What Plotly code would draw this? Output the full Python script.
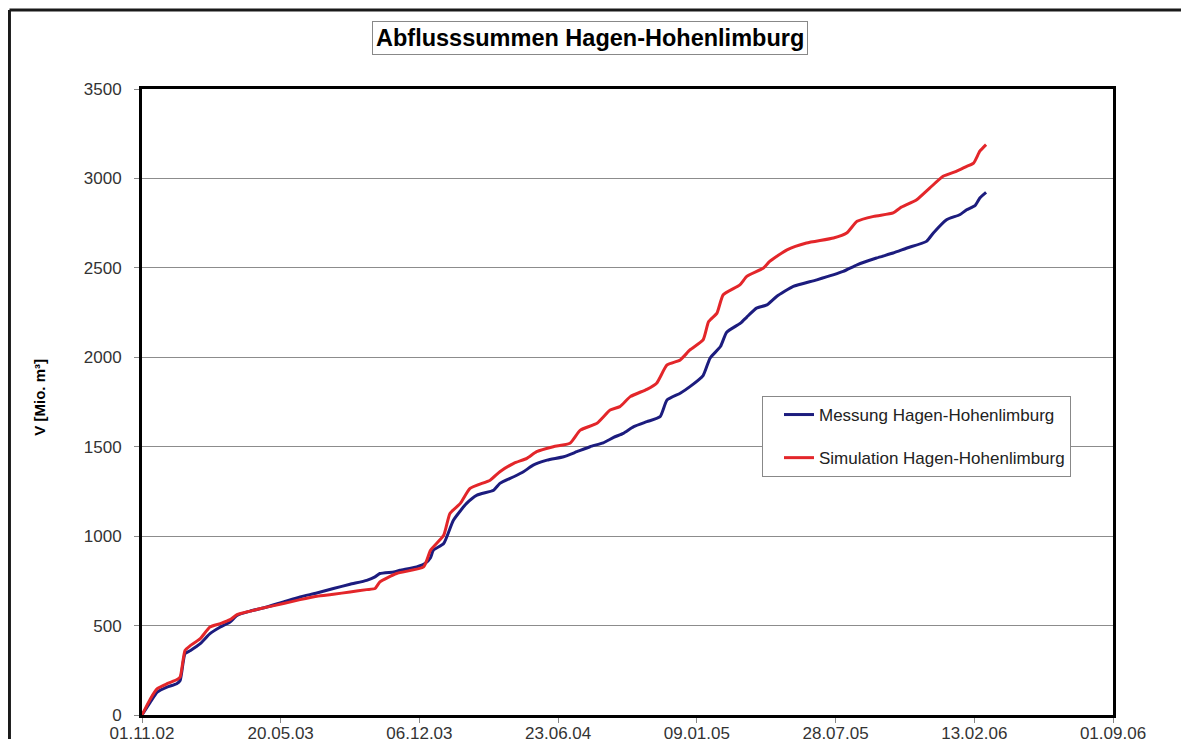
import pandas as pd
import plotly.graph_objects as go

# Tage seit 01.11.2002 und Abflusssummen [Mio. m³]
START = "2002-11-01"

mess_tage = [0, 12, 22, 36, 50, 55, 62, 70, 84, 98, 113, 127, 137, 156, 180, 204, 228,
             252, 276, 300, 324, 336, 343, 363, 372, 396, 408, 416, 420, 435, 449, 468,
             483, 507, 516, 536, 550, 564, 584, 608, 627, 646, 665, 680, 694, 709, 728,
             747, 757, 776, 790, 809, 819, 834, 843, 863, 872, 886, 901, 915, 939, 973,
             1011, 1031, 1059, 1083, 1103, 1131, 1141, 1160, 1179, 1189, 1201, 1208, 1217]
mess_werte = [0, 72, 128, 156, 175, 193, 343, 361, 399, 455, 492, 520, 557, 581, 604, 632, 660,
              682, 707, 731, 753, 772, 791, 800, 809, 828, 847, 880, 921, 959, 1089, 1183,
              1229, 1257, 1295, 1332, 1360, 1397, 1425, 1444, 1472, 1500, 1522, 1552, 1575, 1612, 1640,
              1668, 1761, 1799, 1836, 1898, 1995, 2060, 2140, 2191, 2225, 2275, 2293, 2340, 2396, 2433,
              2480, 2517, 2555, 2583, 2611, 2648, 2695, 2769, 2797, 2825, 2848, 2891, 2922]

sim_tage = [0, 12, 22, 36, 50, 55, 62, 70, 84, 98, 113, 127, 137, 156, 180, 204, 228,
            252, 276, 300, 324, 336, 343, 367, 406, 416, 435, 444, 459, 473, 502, 516,
            536, 555, 569, 593, 617, 632, 656, 675, 689, 704, 728, 742, 757, 776, 790,
            809, 817, 829, 838, 862, 872, 896, 905, 930, 958, 997, 1016, 1031, 1055, 1083,
            1093, 1117, 1136, 1155, 1174, 1189, 1199, 1208, 1217]
sim_werte = [0, 90, 147, 175, 197, 212, 361, 389, 427, 492, 511, 533, 561, 581, 603, 623, 645,
             664, 675, 688, 701, 707, 744, 791, 828, 921, 1005, 1127, 1183, 1267, 1313, 1360,
             1407, 1435, 1472, 1500, 1519, 1593, 1631, 1705, 1724, 1780, 1821, 1855, 1957, 1985, 2041,
             2097, 2200, 2247, 2350, 2405, 2452, 2499, 2536, 2601, 2639, 2667, 2695, 2760, 2788, 2807,
             2835, 2881, 2947, 3012, 3040, 3068, 3086, 3152, 3189]

start = pd.Timestamp(START)
mess_x = start + pd.to_timedelta(mess_tage, unit="D")
sim_x = start + pd.to_timedelta(sim_tage, unit="D")

# Achsenteilung alle 200 Tage wie im Excel-Diagramm
tick_x = [start + pd.Timedelta(days=200 * k) for k in range(8)]
tick_text = [t.strftime("%d.%m.%y") for t in tick_x]

fig = go.Figure()

fig.add_trace(go.Scatter(
    x=mess_x, y=mess_werte,
    mode="lines",
    name="Messung Hagen-Hohenlimburg",
    line=dict(color="#1c1c7e", width=3, shape="spline", smoothing=0.5),
    legendgroup="a"
))
fig.add_trace(go.Scatter(
    x=sim_x, y=sim_werte,
    mode="lines",
    name="Simulation Hagen-Hohenlimburg",
    line=dict(color="#e3262a", width=3, shape="spline", smoothing=0.5),
    legendgroup="b"
))

fig.update_xaxes(
    range=[tick_x[0], tick_x[-1]],
    tickvals=tick_x, ticktext=tick_text,
    ticks="outside", ticklen=5, tickcolor="#888",
    ticklabelstandoff=-4, automargin=False,
    showgrid=False, zeroline=False,
    showline=True, mirror=True, linecolor="black", linewidth=3,
    tickfont=dict(size=17, color="#333")
)
fig.update_yaxes(
    range=[0, 3500], dtick=500,
    ticks="outside", ticklen=5, tickcolor="#888",
    ticklabelstandoff=9, automargin=False,
    showgrid=True, gridcolor="#8c8c8c", gridwidth=1,
    zeroline=False,
    showline=True, mirror=True, linecolor="black", linewidth=3,
    tickfont=dict(size=17, color="#333")
)

# Titel im Rahmen
fig.add_annotation(
    text="<b>Abflusssummen Hagen-Hohenlimburg</b>",
    xref="paper", yref="paper", x=0.4614, y=1.0815,
    xanchor="center", yanchor="middle",
    showarrow=False, font=dict(size=23.5, color="black"),
    bordercolor="#888", borderwidth=1, borderpad=3, bgcolor="white"
)
# y-Achsenbeschriftung
fig.add_annotation(
    text="<b>V [Mio. m³]</b>",
    xref="paper", yref="paper", x=-0.105, y=0.507,
    xanchor="center", yanchor="middle",
    textangle=-90, showarrow=False,
    font=dict(size=15, color="black")
)
# äußerer Rahmen (nur oben und links sichtbar, Bild ist beschnitten)
fig.add_shape(
    type="line", xref="paper", yref="paper",
    x0=-0.1365, x1=1.07, y0=1.126, y1=1.126,
    line=dict(color="#1a1a1a", width=3)
)
fig.add_shape(
    type="line", xref="paper", yref="paper",
    x0=-0.1365, x1=-0.1365, y0=-0.04, y1=1.126,
    line=dict(color="#1a1a1a", width=3)
)

# Seite hat 8 px Rand -> Figur 1176 x 731, damit keine Bildlaufleiste entsteht
fig.update_layout(
    width=1176, height=731,
    margin=dict(l=134, r=71, t=81, b=24, autoexpand=False),
    paper_bgcolor="white", plot_bgcolor="white",
    font=dict(family="Liberation Sans, Arial, sans-serif"),
    showlegend=True,
    legend=dict(
        x=0.6385, y=0.5096, xanchor="left", yanchor="top",
        bordercolor="#888", borderwidth=1, bgcolor="white",
        font=dict(size=17, color="#222"),
        traceorder="grouped", tracegroupgap=18,
        itemwidth=30, indentation=16
    )
)

fig.write_html("out.html")
